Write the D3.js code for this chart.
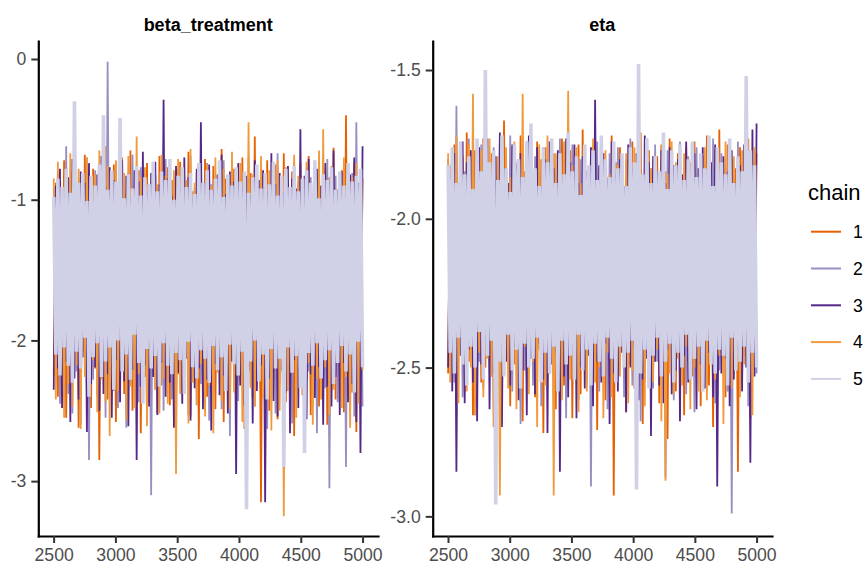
<!DOCTYPE html>
<html>
<head>
<meta charset="utf-8">
<script src="https://cdn.jsdelivr.net/npm/d3@7"></script>
<style>
  html, body { margin: 0; padding: 0; background: #ffffff; }
  svg { display: block; font-family: "Liberation Sans", Arial, Helvetica, sans-serif; }
</style>
</head>
<body>
<svg id="chart" width="867" height="564"></svg>
<script>
// ---------------- DATA ----------------
const chains = ["1", "2", "3", "4", "5"];
const chainColors = ["#e66101", "#998ec3", "#542788", "#f09a3e", "#d0d1e6"];
const panelTitles = ["beta_treatment", "eta"];
const iterFirst = 2501, iterLast = 5000;   // post-warmup iterations (thinned draws below)
const xTicks = [2500, 3000, 3500, 4000, 4500, 5000];
const betaTicks = [0, -1, -2, -3];
const etaTicks = [-1.5, -2.0, -2.5, -3.0];

const betaChain1 = [
-2.25,-0.88,-2.40,-0.95,-2.12,-0.72,-2.55,-1.02,-2.30,-0.80,
-2.18,-0.92,-2.62,-0.85,-2.08,-0.68,-2.35,-0.99,-2.48,-0.78,
-2.20,-0.90,-2.85,-0.83,-2.15,-0.62,-2.42,-1.05,-2.28,-0.75,
-2.58,-0.87,-2.10,-0.70,-2.38,-0.96,-2.22,-0.65,-2.50,-0.89,
-2.14,-0.79,-2.66,-0.93,-2.26,-0.74,-2.44,-1.00,-2.18,-0.82,
-2.52,-0.69,-2.32,-0.91,-2.05,-0.77,-2.46,-0.86,-2.60,-0.97,
-2.24,-0.73,-2.36,-0.84,-2.12,-0.66,-2.54,-0.94,-2.30,-0.80,
-2.70,-0.88,-2.16,-0.71,-2.40,-1.03,-2.27,-0.76,-2.49,-0.90,
-2.20,-0.64,-2.58,-0.85,-2.34,-0.98,-2.11,-0.78,-2.45,-0.92,
-2.29,-0.70,-2.63,-0.87,-2.19,-0.81,-2.41,-0.55,-2.25,-0.95,
-3.15,-0.83,-2.33,-0.72,-2.50,-0.99,-2.14,-0.75,-2.56,-0.88,
-2.22,-0.67,-2.44,-0.93,-2.31,-0.80,-2.68,-1.01,-2.17,-0.74,
-2.39,-0.86,-2.27,-0.69,-2.53,-0.96,-2.13,-0.82,-2.47,-0.90,
-2.21,-0.77,-2.60,-0.84,-2.35,-0.63,-2.42,-0.94,-2.18,-0.79,
-2.51,-0.40,-2.28,-0.88,-2.37,-0.73,-2.65,-0.97,-2.23,-0.85];

const betaChain2 = [
-0.92,-2.30,-0.80,-2.45,-0.98,-2.15,-0.62,-2.38,-0.87,-2.52,
-0.75,-2.22,-0.94,-2.60,-0.83,-2.12,-0.70,-2.85,-0.96,-2.28,
-0.79,-2.40,-1.02,-2.18,-0.86,-2.55,-0.02,-2.25,-0.91,-2.36,
-0.73,-2.48,-0.88,-2.14,-0.97,-2.62,-0.81,-2.32,-0.68,-2.20,
-0.93,-2.44,-0.77,-2.27,-0.85,-2.58,-0.99,-3.10,-0.74,-2.35,
-0.90,-2.16,-0.82,-2.50,-0.71,-2.29,-0.95,-2.42,-0.84,-2.65,
-0.78,-2.19,-1.00,-2.37,-0.87,-2.53,-0.69,-2.24,-0.92,-2.46,
-0.80,-2.31,-0.96,-2.13,-0.74,-2.57,-0.89,-2.39,-0.83,-2.21,
-0.97,-2.49,-0.72,-2.34,-0.86,-2.68,-0.91,-2.17,-0.79,-2.43,
-0.94,-2.26,-0.81,-2.56,-0.70,-2.33,-0.88,-2.47,-0.98,-2.20,
-0.76,-2.41,-0.85,-2.63,-0.93,-2.23,-0.79,-2.52,-0.67,-2.30,
-0.90,-2.45,-0.82,-2.15,-0.96,-2.59,-0.73,-2.36,-0.87,-2.27,
-0.99,-2.50,-0.77,-2.22,-0.84,-2.40,-0.92,-2.66,-0.80,-2.18,
-0.95,-2.34,-0.71,-3.05,-0.89,-2.28,-0.83,-2.44,-0.97,-2.25,
-0.75,-2.90,-0.88,-2.38,-0.81,-2.54,-0.45,-2.21,-0.93,-2.47];

const betaChain3 = [
-2.35,-0.90,-2.20,-0.78,-2.48,-0.96,-2.15,-0.84,-2.58,-0.71,
-2.27,-0.93,-2.42,-0.80,-2.12,-0.88,-2.65,-0.74,-2.31,-0.99,
-2.19,-0.82,-2.50,-0.69,-2.38,-0.91,-2.24,-0.77,-2.55,-0.86,
-2.14,-0.95,-2.44,-0.72,-2.29,-0.83,-2.61,-0.98,-2.21,-0.79,
-2.85,-0.87,-2.33,-0.66,-2.18,-0.94,-2.47,-0.81,-2.26,-0.73,
-2.53,-0.89,-2.16,-0.29,-2.40,-0.85,-2.30,-0.97,-2.62,-0.76,
-2.23,-0.92,-2.45,-0.70,-2.13,-0.84,-2.57,-0.99,-2.34,-0.78,
-2.20,-0.45,-2.49,-0.88,-2.28,-0.75,-2.64,-0.93,-2.17,-0.82,
-2.39,-0.68,-2.25,-0.96,-2.52,-0.80,-2.15,-0.87,-2.95,-0.74,
-2.32,-0.91,-2.46,-0.83,-2.22,-0.97,-2.59,-0.72,-2.36,-0.86,
-2.18,-0.79,-3.15,-0.94,-2.27,-0.67,-2.43,-0.89,-2.54,-0.81,
-2.21,-0.95,-2.37,-0.76,-2.66,-0.85,-2.14,-0.92,-2.48,-0.50,
-2.30,-0.83,-2.56,-0.71,-2.24,-0.98,-2.41,-0.78,-2.19,-0.90,
-2.60,-0.74,-2.33,-0.87,-2.47,-0.65,-2.26,-0.93,-2.53,-0.80,
-2.16,-0.96,-2.44,-0.82,-2.31,-0.70,-2.58,-0.88,-2.80,-0.62];

const betaChain4 = [
-0.85,-2.42,-0.73,-2.20,-0.96,-2.55,-0.80,-2.31,-0.67,-2.47,
-0.91,-2.18,-0.78,-2.63,-0.88,-2.26,-0.70,-2.39,-0.94,-2.14,
-0.82,-2.51,-0.65,-2.28,-0.90,-2.44,-0.76,-2.68,-0.87,-2.22,
-0.72,-2.36,-0.97,-2.16,-0.81,-2.57,-0.69,-2.33,-0.92,-2.48,
-0.55,-2.24,-0.84,-2.40,-0.77,-2.61,-0.95,-2.19,-0.74,-2.35,
-0.89,-2.52,-0.68,-2.27,-0.83,-2.45,-0.98,-2.13,-0.79,-2.95,
-0.71,-2.38,-0.93,-2.21,-0.86,-2.59,-0.64,-2.30,-0.88,-2.46,
-0.80,-2.17,-0.96,-2.54,-0.75,-2.32,-0.90,-2.66,-0.70,-2.23,
-0.85,-2.43,-0.78,-2.12,-0.93,-2.49,-0.66,-2.37,-0.87,-2.25,
-0.74,-2.58,-0.91,-2.20,-0.45,-2.34,-0.82,-2.47,-0.97,-2.15,
-0.69,-2.41,-0.88,-2.29,-0.79,-2.64,-0.94,-2.18,-0.72,-2.50,
-0.86,-3.25,-0.77,-2.36,-0.92,-2.22,-0.68,-2.55,-0.83,-2.31,
-0.95,-2.44,-0.73,-2.16,-0.89,-2.60,-0.80,-2.27,-0.65,-2.42,
-0.50,-2.19,-0.87,-2.53,-0.76,-2.35,-0.93,-2.14,-0.81,-2.48,
-0.70,-2.26,-0.90,-2.62,-0.84,-2.33,-0.74,-2.45,-0.96,-2.21];

const betaChain5 = [
-0.98,-2.10,-0.85,-2.25,-0.91,-2.05,-0.78,-2.18,-0.95,-2.30,
-0.30,-2.08,-0.88,-2.20,-0.81,-1.98,-1.01,-2.40,-0.83,-2.12,
-0.90,-2.02,-0.75,-2.26,-0.40,-2.15,-0.93,-2.05,-0.79,-2.35,
-0.87,-2.00,-0.42,-2.22,-0.99,-2.10,-0.82,-2.28,-0.92,-1.96,
-0.76,-2.16,-0.97,-2.45,-0.84,-2.06,-0.89,-2.20,-0.73,-2.11,
-0.94,-2.33,-0.80,-2.02,-0.86,-2.18,-0.71,-2.24,-1.00,-2.09,
-0.83,-2.14,-0.77,-2.38,-0.91,-2.01,-0.81,-2.19,-0.96,-2.27,
-0.74,-2.07,-0.88,-2.13,-0.79,-2.30,-0.93,-2.04,-0.85,-2.21,
-0.72,-2.12,-0.98,-2.36,-0.82,-2.03,-0.90,-2.17,-0.77,-2.25,
-0.87,-2.08,-0.80,-3.20,-0.95,-2.15,-0.84,-2.00,-0.75,-2.29,
-0.92,-2.10,-0.81,-2.42,-0.89,-2.06,-0.73,-2.20,-0.97,-2.13,
-0.83,-2.90,-0.78,-2.05,-0.91,-2.23,-0.76,-2.11,-0.94,-2.34,
-0.85,-2.80,-0.79,-2.09,-0.88,-2.18,-0.72,-2.02,-0.99,-2.27,
-0.82,-2.14,-0.86,-2.07,-0.77,-2.31,-0.93,-2.16,-0.80,-2.04,
-0.90,-2.22,-0.74,-2.10,-0.87,-2.37,-0.83,-2.01,-0.78,-2.19];

const etaChain1 = [
-2.52,-1.82,-2.45,-1.75,-2.62,-1.88,-2.40,-1.79,-2.58,-1.71,
-2.48,-1.85,-2.66,-1.77,-2.43,-1.90,-2.55,-1.73,-2.50,-1.83,
-2.41,-1.78,-2.70,-1.86,-2.47,-1.74,-2.57,-1.67,-2.44,-1.89,
-2.63,-1.76,-2.49,-1.81,-2.42,-1.72,-2.68,-1.84,-2.53,-1.79,
-2.46,-1.87,-2.60,-1.74,-2.44,-1.80,-2.72,-1.76,-2.51,-1.85,
-2.39,-1.78,-2.64,-1.91,-2.48,-1.73,-2.56,-1.82,-2.43,-1.77,
-2.67,-1.84,-2.45,-1.75,-2.59,-1.70,-2.50,-1.88,-2.42,-1.79,
-2.54,-1.74,-2.71,-1.83,-2.47,-1.78,-2.61,-1.86,-2.44,-1.72,
-2.93,-1.81,-2.52,-1.76,-2.40,-1.89,-2.65,-1.80,-2.49,-1.74,
-2.57,-1.85,-2.43,-1.71,-2.69,-1.83,-2.46,-1.77,-2.55,-1.87,
-2.41,-1.79,-2.62,-1.75,-2.50,-1.84,-2.74,-1.73,-2.45,-1.82,
-2.58,-1.78,-2.44,-1.86,-2.66,-1.76,-2.48,-1.81,-2.53,-1.74,
-2.42,-1.88,-2.63,-1.79,-2.47,-1.72,-2.56,-1.84,-2.70,-1.77,
-2.51,-1.70,-2.45,-1.85,-2.60,-1.75,-2.49,-1.80,-2.43,-1.83,
-2.85,-1.76,-2.54,-1.89,-2.46,-1.73,-2.67,-1.81,-2.50,-1.78];

const etaChain2 = [
-1.80,-2.47,-1.86,-2.55,-1.62,-2.43,-1.77,-2.60,-1.84,-2.50,
-1.73,-2.44,-1.89,-2.66,-1.79,-2.48,-1.75,-2.57,-1.87,-2.42,
-1.82,-2.53,-1.76,-2.46,-1.90,-2.62,-1.78,-2.49,-1.85,-2.41,
-1.72,-2.58,-1.83,-2.45,-1.80,-2.69,-1.88,-2.51,-1.74,-2.44,
-1.86,-2.56,-1.79,-2.48,-1.84,-2.63,-1.76,-2.43,-1.91,-2.52,
-1.78,-2.59,-1.85,-2.45,-1.73,-2.54,-1.87,-2.67,-1.81,-2.47,
-1.75,-2.42,-1.89,-2.61,-1.80,-2.50,-1.77,-2.55,-1.83,-2.90,
-1.86,-2.46,-1.74,-2.58,-1.82,-2.44,-1.90,-2.64,-1.78,-2.49,
-1.84,-2.53,-1.76,-2.43,-1.88,-2.60,-1.81,-2.47,-1.73,-2.56,
-1.87,-2.45,-1.79,-2.68,-1.85,-2.50,-1.75,-2.42,-1.83,-2.57,
-1.75,-2.48,-1.89,-2.54,-1.80,-2.87,-1.77,-2.46,-1.86,-2.61,
-1.82,-2.44,-1.74,-2.52,-1.88,-2.59,-1.79,-2.45,-1.84,-2.65,
-1.76,-2.49,-1.90,-2.43,-1.81,-2.56,-1.85,-2.47,-1.73,-2.62,
-1.87,-2.51,-1.78,-2.44,-1.83,-2.58,-1.80,-2.99,-1.86,-2.48,
-1.74,-2.55,-1.89,-2.46,-1.82,-2.63,-1.77,-2.45,-1.85,-2.52];

const etaChain3 = [
-2.50,-1.85,-2.58,-1.78,-2.85,-1.88,-2.46,-1.74,-2.62,-1.81,
-2.44,-1.77,-2.55,-1.90,-2.68,-1.76,-2.49,-1.84,-2.41,-1.73,
-2.64,-1.86,-2.52,-1.79,-2.45,-1.71,-2.70,-1.83,-2.48,-1.88,
-2.56,-1.75,-2.43,-1.82,-2.61,-1.78,-2.51,-1.87,-2.66,-1.72,
-2.47,-1.85,-2.59,-1.76,-2.42,-1.89,-2.54,-1.80,-2.72,-1.74,
-2.49,-1.83,-2.45,-1.77,-2.85,-1.86,-2.53,-1.73,-2.60,-1.81,
-2.44,-1.75,-2.67,-1.88,-2.50,-1.79,-2.57,-1.84,-2.46,-1.76,
-2.63,-1.60,-2.48,-1.82,-2.55,-1.78,-2.42,-1.87,-2.69,-1.74,
-2.52,-1.85,-2.58,-1.80,-2.45,-1.89,-2.65,-1.75,-2.50,-1.83,
-2.43,-1.78,-2.61,-1.86,-2.54,-1.72,-2.47,-1.81,-2.73,-1.79,
-2.48,-1.84,-2.56,-1.77,-2.62,-1.88,-2.44,-1.76,-2.59,-1.82,
-2.51,-1.80,-2.68,-1.85,-2.46,-1.74,-2.55,-1.87,-2.42,-1.78,
-2.64,-1.83,-2.49,-1.76,-2.57,-1.89,-2.45,-1.81,-2.60,-1.75,
-2.90,-1.86,-2.52,-1.79,-2.47,-1.84,-2.63,-1.77,-2.54,-1.88,
-2.44,-1.82,-2.58,-1.75,-2.50,-1.86,-2.82,-1.70,-2.53,-1.68];

const etaChain4 = [
-1.78,-2.55,-1.84,-2.48,-1.72,-2.62,-1.80,-2.44,-1.87,-2.58,
-1.75,-2.50,-1.58,-2.66,-1.82,-2.45,-1.77,-2.60,-1.85,-2.47,
-1.73,-2.53,-1.89,-2.42,-1.79,-2.93,-1.83,-2.49,-1.76,-2.57,
-1.86,-2.46,-1.74,-2.64,-1.81,-2.51,-1.58,-2.43,-1.88,-2.59,
-1.77,-2.48,-1.83,-2.70,-1.75,-2.45,-1.85,-2.56,-1.72,-2.52,
-1.80,-2.93,-1.78,-2.47,-1.86,-2.61,-1.74,-2.44,-1.57,-2.54,
-1.82,-2.49,-1.76,-2.65,-1.88,-2.46,-1.79,-2.58,-1.84,-2.43,
-1.73,-2.55,-1.87,-2.50,-1.80,-2.67,-1.77,-2.45,-1.85,-2.60,
-1.75,-2.48,-1.82,-2.53,-1.89,-2.44,-1.78,-2.62,-1.84,-2.51,
-1.76,-2.57,-1.81,-2.46,-1.86,-2.63,-1.73,-2.49,-1.83,-2.55,
-1.79,-2.44,-1.88,-2.68,-1.77,-2.88,-1.85,-2.52,-1.74,-2.59,
-1.81,-2.47,-1.86,-2.56,-1.78,-2.43,-1.83,-2.64,-1.75,-2.50,
-1.87,-2.58,-1.80,-2.45,-1.76,-2.61,-1.84,-2.48,-1.89,-2.54,
-1.78,-2.46,-1.82,-2.69,-1.74,-2.51,-1.86,-2.57,-1.79,-2.44,
-1.85,-2.60,-1.77,-2.49,-1.83,-2.55,-1.80,-2.66,-1.76,-2.47];

const etaChain5 = [
-1.82,-2.45,-1.76,-2.52,-1.88,-2.40,-1.74,-2.49,-1.85,-2.56,
-1.79,-2.43,-1.90,-2.50,-1.73,-2.38,-1.84,-2.54,-1.50,-2.46,
-1.81,-2.41,-1.77,-2.96,-1.87,-2.48,-1.72,-2.53,-1.83,-2.39,
-1.91,-2.51,-1.75,-2.44,-1.80,-2.57,-1.86,-2.42,-1.74,-2.50,
-1.68,-2.47,-1.83,-2.40,-1.89,-2.55,-1.76,-2.45,-1.81,-2.52,
-1.73,-2.43,-1.88,-2.58,-1.78,-2.41,-1.85,-2.49,-1.71,-2.46,
-1.84,-2.54,-1.79,-2.39,-1.92,-2.51,-1.75,-2.44,-1.82,-2.56,
-1.77,-2.42,-1.87,-2.48,-1.72,-2.53,-1.80,-2.40,-1.86,-2.47,
-1.74,-2.55,-1.83,-2.43,-1.78,-2.50,-1.89,-2.45,-1.76,-2.41,
-1.81,-2.91,-1.48,-2.52,-1.85,-2.44,-1.73,-2.57,-1.88,-2.46,
-1.79,-2.40,-1.84,-2.53,-1.71,-2.48,-1.90,-2.42,-1.77,-2.55,
-1.82,-2.45,-1.75,-2.50,-1.87,-2.39,-1.80,-2.54,-1.74,-2.47,
-1.86,-2.43,-1.78,-2.58,-1.83,-2.41,-1.72,-2.49,-1.89,-2.52,
-1.76,-2.44,-1.81,-2.46,-1.85,-2.56,-1.73,-2.40,-1.88,-2.51,
-1.79,-2.48,-1.84,-2.43,-1.52,-2.55,-1.77,-2.45,-1.82,-2.50];

// ---------------- DRAWING ----------------
const svg = d3.select("#chart");
const FONT_TICK = 17.6;
// chain 5 sits on top and (with the dense draws it stands for) fills the band
const traceWidths = [1.8, 1.8, 1.8, 1.8, 3.6];

const panels = [
  { title: panelTitles[0], series: [betaChain1, betaChain2, betaChain3, betaChain4, betaChain5],
    xRange: [38.3, 378], yDomain: [-3.39, 0.128], yTicks: betaTicks, fmt: d => String(d) },
  { title: panelTitles[1], series: [etaChain1, etaChain2, etaChain3, etaChain4, etaChain5],
    xRange: [432.7, 772], yDomain: [-3.066, -1.4025], yTicks: etaTicks, fmt: d => d.toFixed(1) }
];
const yRange = [536, 41];

panels.forEach(p => {
  const x = d3.scaleLinear().domain([2376, 5125]).range(p.xRange);
  const y = d3.scaleLinear().domain(p.yDomain).range(yRange);
  const g = svg.append("g");

  // traces, chain 1 drawn first, chain 5 last (on top)
  p.series.forEach((vals, ci) => {
    const n = vals.length;
    const pts = vals.map((v, i) => [iterFirst + i * (iterLast - iterFirst) / (n - 1), v]);
    const line = d3.line().x(d => x(d[0])).y(d => y(d[1]));
    g.append("path")
      .attr("d", line(pts))
      .attr("fill", "none")
      .attr("stroke", chainColors[ci])
      .attr("stroke-width", traceWidths[ci])
      .attr("stroke-linejoin", "miter")
      .attr("stroke-miterlimit", 1.2);
  });

  // axes
  const xAxis = d3.axisBottom(x).tickValues(xTicks).tickSize(7).tickSizeOuter(0).tickPadding(4)
    .tickFormat(d3.format("d"));
  const yAxis = d3.axisLeft(y).tickValues(p.yTicks).tickSize(7).tickSizeOuter(0).tickPadding(5)
    .tickFormat(p.fmt);

  const gx = g.append("g").attr("transform", `translate(0,${yRange[0]})`).call(xAxis);
  const gy = g.append("g").attr("transform", `translate(${p.xRange[0]},0)`).call(yAxis);
  [gx, gy].forEach(a => {
    a.select(".domain").attr("stroke", "#000").attr("stroke-width", 2.2).attr("stroke-linecap", "square");
    a.selectAll(".tick line").attr("stroke", "#333").attr("stroke-width", 2);
    a.selectAll(".tick text").attr("fill", "#4d4d4d").style("font-size", FONT_TICK + "px")
      .style("font-family", '"Liberation Sans", Arial, sans-serif');
  });
  gx.selectAll(".tick text").attr("dy", "0.78em");

  // strip title
  g.append("text")
    .attr("x", (p.xRange[0] + p.xRange[1]) / 2)
    .attr("y", 31)
    .attr("text-anchor", "middle")
    .style("font-size", "18px")
    .style("font-weight", "bold")
    .attr("fill", "#000")
    .text(p.title);
});

// legend
const lg = svg.append("g");
lg.append("text").attr("x", 808).attr("y", 200).style("font-size", "22px").attr("fill", "#000").text("chain");
chains.forEach((c, i) => {
  const yy = 231.7 + i * 36.8;
  lg.append("line").attr("x1", 811).attr("x2", 841).attr("y1", yy).attr("y2", yy)
    .attr("stroke", chainColors[i]).attr("stroke-width", 2);
  lg.append("text").attr("x", 853).attr("y", yy).attr("dy", "0.36em")
    .style("font-size", "17.6px").attr("fill", "#000").text(c);
});
</script>
</body>
</html>
